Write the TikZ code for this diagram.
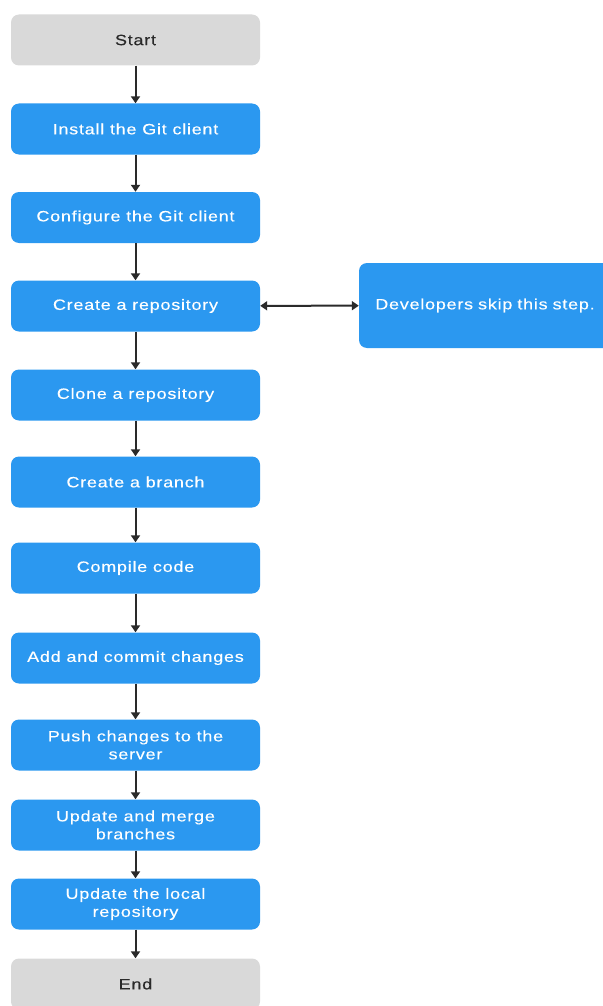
\documentclass[tikz,border=0pt]{standalone}
\usepackage{fontspec}
\setmainfont{Liberation Sans}
\newfontfamily\boxfont[FakeStretch=1.2,LetterSpace=5,FakeBold=0.25]{Liberation Sans}
\usetikzlibrary{arrows.meta}
\definecolor{stepblue}{HTML}{2B98F0}
\definecolor{stepgray}{HTML}{D9D9D9}
\definecolor{linegray}{HTML}{2A2A2A}
\tikzset{
  box/.style={rounded corners=8pt, minimum width=249pt, minimum height=51pt, inner sep=2pt, align=center,
    font=\boxfont\fontsize{15}{18}\selectfont},
  stepbox/.style={box, fill=stepblue, text=white},
  termbox/.style={box, fill=stepgray, text=linegray},
  flow/.style={draw=linegray, line width=2pt, -{Triangle[length=7pt,width=9pt]}},
  both/.style={draw=linegray, line width=2pt, {Triangle[length=7pt,width=9pt]}-{Triangle[length=7pt,width=9pt]}}
}
\begin{document}
\begin{tikzpicture}[x=1pt,y=-1pt]
\useasboundingbox (0,0) rectangle (602,1006);
\node[termbox] (start) at (135.5,40) {Start};
\node[stepbox] (install) at (135.5,129) {Install the Git client};
\node[stepbox] (config) at (135.5,217.5) {Configure the Git client};
\node[stepbox] (create) at (135.5,306) {Create a repository};
\node[stepbox] (clone) at (135.5,395) {Clone a repository};
\node[stepbox] (branch) at (135.5,482) {Create a branch};
\node[stepbox] (compile) at (135.5,568) {Compile code};
\node[stepbox] (commit) at (135.5,658) {Add and commit changes};
\node[stepbox] (push) at (135.5,745) {Push changes to the\\server};
\node[stepbox] (merge) at (135.5,825) {Update and merge\\branches};
\node[stepbox] (local) at (135.5,904) {Update the local\\repository};
\node[termbox] (end) at (135.5,984) {End};
\node[stepbox, minimum width=252pt, minimum height=85pt, text width=245pt] (dev) at (485,305.5) {Developers skip this step.};
\draw[flow] (start) -- (install);
\draw[flow] (install) -- (config);
\draw[flow] (config) -- (create);
\draw[flow] (create) -- (clone);
\draw[flow] (clone) -- (branch);
\draw[flow] (branch) -- (compile);
\draw[flow] (compile) -- (commit);
\draw[flow] (commit) -- (push);
\draw[flow] (push) -- (merge);
\draw[flow] (merge) -- (local);
\draw[flow] (local) -- (end);
\draw[both] (create) -- (dev);
\end{tikzpicture}
\end{document}
